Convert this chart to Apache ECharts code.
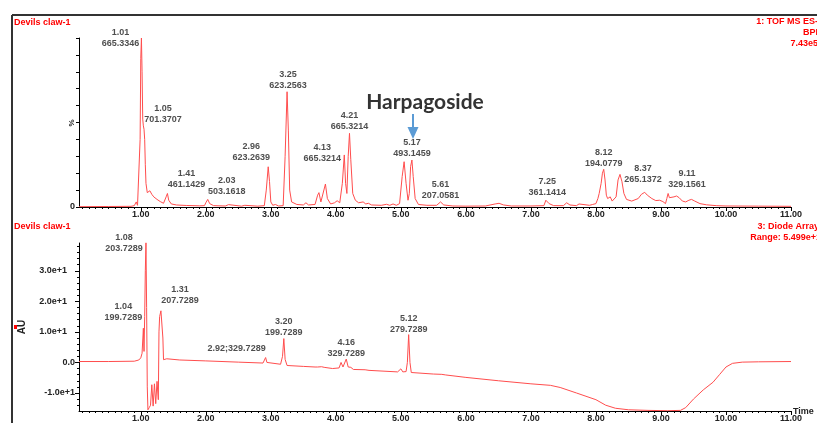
<!DOCTYPE html>
<html>
<head>
<meta charset="utf-8">
<script src="https://cdn.jsdelivr.net/npm/echarts@6/dist/echarts.min.js"></script>
<style>
  html, body { margin: 0; padding: 0; background: #fff; }
  #chart { width: 817px; height: 423px; }
</style>
</head>
<body>
<div id="chart"></div>
<script>
// MS base peak trace: [retention time (min), relative intensity (%)]
const msTrace = [
  [0.05, 0.2], [0.5, 0.3], [0.85, 0.4], [0.9, 0.8], [0.93, 3.0], [0.95, 1.0], [0.97, 2.0],
  [0.99, 40], [1.0, 88], [1.01, 100], [1.02, 80], [1.03, 52], [1.04, 48], [1.05, 46],
  [1.06, 40], [1.07, 25], [1.08, 14], [1.1, 8.5], [1.12, 9.5], [1.14, 9.6], [1.17, 7.5],
  [1.2, 6], [1.25, 4.5], [1.3, 3.2], [1.35, 2.2], [1.38, 2.5], [1.39, 6], [1.41, 8],
  [1.43, 4], [1.47, 1.8], [1.55, 1.2], [1.7, 0.9], [1.9, 0.7], [1.98, 0.8], [2.0, 2.5],
  [2.03, 4.5], [2.06, 2], [2.12, 0.8], [2.3, 0.6], [2.35, 1.4], [2.38, 0.6], [2.55, 0.5],
  [2.6, 1.0], [2.63, 0.5], [2.8, 0.5], [2.9, 0.8], [2.93, 10], [2.96, 23.8], [2.98, 15],
  [3.0, 3], [3.03, 1], [3.07, 1.5], [3.12, 0.6], [3.19, 0.8], [3.22, 30], [3.25, 68.2],
  [3.27, 45], [3.29, 10], [3.32, 3], [3.4, 1.5], [3.5, 1.2], [3.54, 2.5], [3.58, 1.2],
  [3.68, 1.5], [3.72, 7], [3.74, 8.5], [3.77, 3], [3.8, 4], [3.84, 13.6], [3.87, 5],
  [3.92, 1.8], [3.98, 2.5], [4.02, 3.7], [4.06, 2.5], [4.1, 14], [4.13, 30.8], [4.15, 14],
  [4.17, 8], [4.19, 30], [4.21, 43.6], [4.23, 28], [4.26, 8], [4.3, 4], [4.35, 2.5],
  [4.42, 3], [4.46, 1.8], [4.5, 2.2], [4.55, 1.2], [4.7, 1], [4.78, 1.6], [4.83, 1.0],
  [4.88, 1.8], [4.93, 1], [4.98, 2], [5.02, 18], [5.05, 26.8], [5.08, 14], [5.11, 4],
  [5.13, 8], [5.15, 24], [5.17, 27.8], [5.19, 18], [5.22, 5], [5.27, 1.5], [5.4, 1],
  [5.55, 1], [5.61, 3], [5.66, 1.2], [5.8, 0.6], [6.0, 0.5], [6.3, 0.6], [6.45, 1.8],
  [6.51, 2.2], [6.58, 1.2], [6.7, 0.6], [7.0, 0.6], [7.2, 0.8], [7.23, 4], [7.25, 5.1],
  [7.28, 2], [7.35, 0.8], [7.5, 0.8], [7.55, 2.5], [7.57, 3.5], [7.6, 1.2], [7.7, 0.8],
  [7.74, 1.8], [7.77, 0.8], [7.9, 1], [7.95, 1.5], [8.0, 2], [8.03, 5], [8.05, 8],
  [8.08, 14], [8.1, 20], [8.12, 22.3], [8.14, 16], [8.16, 7], [8.18, 5], [8.22, 6],
  [8.25, 3.5], [8.28, 3], [8.31, 6], [8.34, 16], [8.37, 19.3], [8.4, 15], [8.43, 8],
  [8.47, 4.5], [8.55, 3.5], [8.65, 5], [8.7, 7.5], [8.75, 8.7], [8.79, 7], [8.82, 6.5],
  [8.86, 5], [8.92, 3.8], [8.98, 4], [9.03, 3.2], [9.07, 2], [9.09, 5], [9.11, 8],
  [9.13, 5.5], [9.16, 4.5], [9.2, 6], [9.24, 6.5], [9.28, 5.5], [9.33, 3.5], [9.38, 3],
  [9.43, 4], [9.47, 4.5], [9.52, 3.5], [9.6, 2], [9.7, 1.3], [9.85, 0.8], [10.0, 0.6],
  [10.5, 0.5], [11.0, 0.4]
];

// Diode array trace: [retention time (min), absorbance (AU)]
const uvTrace = [
  [0.05, 0.3], [0.5, 0.3], [0.9, 0.4], [0.97, 0.8], [1.0, 1.5], [1.02, 3], [1.04, 11.2],
  [1.05, 3.6], [1.06, 15], [1.07, 30], [1.08, 39.2], [1.09, 18], [1.1, -8], [1.11, -15.5],
  [1.13, -14.8], [1.15, -14], [1.17, -7.3], [1.19, -14.3], [1.21, -7], [1.23, -13.5],
  [1.25, -6.2], [1.27, -12.2], [1.28, 10], [1.29, 15], [1.31, 16.9], [1.33, 16.5],
  [1.34, 8], [1.35, 0.9], [1.4, 1.2], [1.6, 0.8], [2.0, 0.5], [2.5, 0.1], [2.88, -0.2],
  [2.9, 0.3], [2.92, 1.6], [2.94, 0], [2.96, -0.5], [3.15, -0.6], [3.18, 2], [3.2, 7.8],
  [3.22, 1], [3.25, -1], [3.5, -1.3], [3.68, -1.5], [3.7, -0.9], [3.72, -1.5], [3.78, -1.4],
  [3.8, -0.75], [3.82, -1.6], [3.95, -2.0], [4.05, -1.8], [4.08, 0], [4.11, -1.5],
  [4.13, -1.3], [4.16, 1.1], [4.19, -1.5], [4.23, -1.6], [4.27, -2.3], [4.45, -2.4],
  [4.48, -2.1], [4.51, -2.6], [4.95, -3.1], [5.0, -2.1], [5.03, -3.1], [5.08, -3.0],
  [5.1, 0], [5.12, 9.1], [5.14, 0], [5.16, -3.3], [5.5, -3.8], [5.63, -3.9], [5.66, -3.6],
  [5.69, -4.1], [6.0, -4.9], [6.5, -6.0], [7.0, -7.0], [7.3, -7.5], [7.45, -8.2],
  [7.7, -10], [8.0, -12.2], [8.15, -14], [8.3, -15.0], [8.5, -15.5], [8.8, -15.7],
  [9.1, -15.8], [9.3, -15.7], [9.38, -14.8], [9.5, -12], [9.65, -9], [9.8, -6.5],
  [9.9, -4], [10.0, -1.5], [10.1, -0.3], [10.25, 0.1], [10.5, 0.2], [11.0, 0.3]
];

// Annotated peaks (retention time, m/z)
const msPeakTimes  = [1.01, 1.05, 1.41, 2.03, 2.96, 3.25, 4.13, 4.21, 5.17, 5.61, 7.25, 8.12, 8.37, 9.11];
const msPeakMasses = ['665.3346', '701.3707', '461.1429', '503.1618', '623.2639', '623.2563',
  '665.3214', '665.3214', '493.1459', '207.0581', '361.1414', '194.0779', '265.1372', '329.1561'];
const uvPeakTimes  = [1.04, 1.08, 1.31, 2.92, 3.20, 4.16, 5.12];
const uvPeakMasses = ['199.7289', '203.7289', '207.7289', '329.7289', '199.7289', '329.7289', '279.7289'];

// Axis ticks
const timeTicks = [1, 2, 3, 4, 5, 6, 7, 8, 9, 10, 11];
const pctTicks = [0, 10, 20, 30, 40, 50, 60, 70, 80, 90, 100];
const pctLabels = [0];
const auTicks = [-10, 0, 10, 20, 30];

// Label placement (pixel offsets of the label block from its peak)
const msLabelOffsets = [[-21, 0], [19, -15], [19, -14], [19, -13], [-17, -15], [1, -12],
  [-22, -2], [0, -12], [0, -12], [0, -12], [0, -11], [0, -11], [23, 0], [19, -14]];
const uvLabelOffsets = [[-20, -16], [-22, 0], [19, -16], [-29, -9], [0, -12], [0, -11.5], [0, -11]];
const uvLabelInline = [false, false, false, true, false, false, false];

const minorTime = [];
for (let k = 1; k <= 110; k++) minorTime.push(k / 10);
const minorAU = [];
for (let v = -14; v <= 38; v += 2) minorAU.push(v);

function valueAt(trace, t) {
  for (const p of trace) if (Math.abs(p[0] - t) < 1e-6) return p[1];
  return 0;
}
function fmtAU(v) {
  if (v === 0) return '0.0';
  const e = Math.floor(Math.log10(Math.abs(v)));
  const m = v / Math.pow(10, e);
  const s = m.toFixed(1) + 'e' + (e >= 0 ? '+' : '') + e;
  // positive exponents are printed with a little trailing room
  return v > 0 ? '{pos|' + s + '}' : s;
}

const RED = '#ff0000';
const TRACE = '#ff4d4d';
const INK = '#222';
const FONT = '"Liberation Sans", Arial, sans-serif';

const labelStyle = {
  show: true, position: 'inside', color: INK, fontFamily: FONT,
  fontSize: 9, fontWeight: 'bold', lineHeight: 11, align: 'center'
};

const msLabels = msPeakTimes.map((t, i) => ({
  value: [t, valueAt(msTrace, t)],
  label: Object.assign({}, labelStyle, {
    offset: msLabelOffsets[i],
    formatter: t.toFixed(2) + '\n' + msPeakMasses[i]
  })
}));
const uvLabels = uvPeakTimes.map((t, i) => ({
  value: [t, valueAt(uvTrace, t)],
  label: Object.assign({}, labelStyle, {
    offset: uvLabelOffsets[i],
    formatter: uvLabelInline[i] ? t.toFixed(2) + ';' + uvPeakMasses[i]
                                : t.toFixed(2) + '\n' + uvPeakMasses[i]
  })
}));

const axisLabelStyle = { color: INK, fontFamily: FONT, fontSize: 9, fontWeight: 'bold' };

function timeAxis(grid) {
  return {
    gridIndex: grid, type: 'value', min: 0.05, max: 11, position: 'bottom',
    axisLine: { show: true, onZero: false, lineStyle: { color: '#000', width: 1 } },
    axisTick: { show: true, customValues: timeTicks, length: 4, lineStyle: { color: '#000' } },
    axisLabel: Object.assign({ customValues: timeTicks, margin: 3, formatter: v => v.toFixed(2) }, axisLabelStyle),
    splitLine: { show: false }
  };
}
function minorTimeAxis(grid) {
  return {
    gridIndex: grid, type: 'value', min: 0.05, max: 11, position: 'bottom',
    axisLine: { show: false, onZero: false },
    axisTick: { show: true, customValues: minorTime, length: 2, lineStyle: { color: '#000' } },
    axisLabel: { show: false }, splitLine: { show: false }
  };
}

const option = {
  animation: false,
  backgroundColor: '#fff',
  grid: [
    { left: 79, right: 26, top: 38, height: 169 },
    { left: 79, right: 26, top: 243, height: 169 }
  ],
  xAxis: [timeAxis(0), minorTimeAxis(0), timeAxis(1), minorTimeAxis(1)],
  yAxis: [
    {
      gridIndex: 0, type: 'value', min: 0, max: 100, position: 'left',
      axisLine: { show: true, lineStyle: { color: '#000' } },
      axisTick: { show: true, customValues: pctTicks, length: 3, lineStyle: { color: '#000' } },
      axisLabel: Object.assign({ customValues: pctLabels, margin: 4 }, axisLabelStyle),
      splitLine: { show: false }
    },
    {
      gridIndex: 1, type: 'value', min: -15.9, max: 39.1, position: 'left',
      axisLine: { show: true, onZero: false, lineStyle: { color: '#000' } },
      axisTick: { show: true, customValues: auTicks, length: 4, lineStyle: { color: '#000' } },
      axisLabel: Object.assign({
        customValues: auTicks, margin: 4, formatter: fmtAU,
        rich: { pos: { color: INK, fontFamily: FONT, fontSize: 9, fontWeight: 'bold', padding: [0, 8, 0, 0] } }
      }, axisLabelStyle),
      splitLine: { show: false }
    },
    {
      gridIndex: 1, type: 'value', min: -15.9, max: 39.1, position: 'left',
      axisLine: { show: false, onZero: false },
      axisTick: { show: true, customValues: minorAU, length: 2, lineStyle: { color: '#000' } },
      axisLabel: { show: false }, splitLine: { show: false }
    }
  ],
  series: [
    {
      type: 'line', xAxisIndex: 0, yAxisIndex: 0, data: msTrace,
      showSymbol: false, symbol: 'none', clip: true,
      lineStyle: { color: TRACE, width: 1 }
    },
    {
      type: 'line', xAxisIndex: 2, yAxisIndex: 1, data: uvTrace,
      showSymbol: false, symbol: 'none', clip: true,
      lineStyle: { color: TRACE, width: 1 }
    },
    {
      type: 'scatter', xAxisIndex: 0, yAxisIndex: 0, data: msLabels,
      symbolSize: 0, clip: false, z: 5, silent: true
    },
    {
      type: 'scatter', xAxisIndex: 2, yAxisIndex: 1, data: uvLabels,
      symbolSize: 0, clip: false, z: 5, silent: true
    }
  ],
  graphic: [
    // panel frame
    { type: 'line', shape: { x1: 12, y1: 15, x2: 817, y2: 15 }, style: { stroke: '#333', lineWidth: 2 } },
    { type: 'line', shape: { x1: 12, y1: 15, x2: 12, y2: 423 }, style: { stroke: '#333', lineWidth: 2 } },
    // headers
    { type: 'text', x: 14, y: 23, style: { text: 'Devils claw-1', fill: RED, font: 'bold 9px ' + FONT, textVerticalAlign: 'middle' } },
    { type: 'text', x: 14, y: 227, style: { text: 'Devils claw-1', fill: RED, font: 'bold 9px ' + FONT, textVerticalAlign: 'middle' } },
    { type: 'text', x: 818, y: 22, style: { text: '1: TOF MS ES-', fill: RED, font: 'bold 9px ' + FONT, textAlign: 'right', textVerticalAlign: 'middle' } },
    { type: 'text', x: 818, y: 33, style: { text: 'BPI', fill: RED, font: 'bold 9px ' + FONT, textAlign: 'right', textVerticalAlign: 'middle' } },
    { type: 'text', x: 818, y: 44, style: { text: '7.43e5', fill: RED, font: 'bold 9px ' + FONT, textAlign: 'right', textVerticalAlign: 'middle' } },
    { type: 'text', x: 819, y: 227, style: { text: '3: Diode Array', fill: RED, font: 'bold 9px ' + FONT, textAlign: 'right', textVerticalAlign: 'middle' } },
    { type: 'text', x: 821, y: 238, style: { text: 'Range: 5.499e+1', fill: RED, font: 'bold 9px ' + FONT, textAlign: 'right', textVerticalAlign: 'middle' } },
    // axis captions
    { type: 'text', x: 72, y: 123, rotation: Math.PI / 2, style: { text: '%', fill: INK, font: 'bold 8px ' + FONT, textAlign: 'center', textVerticalAlign: 'middle' } },
    { type: 'text', x: 793, y: 412, style: { text: 'Time', fill: INK, font: 'bold 9px ' + FONT, textVerticalAlign: 'middle' } },
    { type: 'text', x: 22, y: 327, rotation: Math.PI / 2, style: { text: 'AU', fill: INK, font: 'bold 10px ' + FONT, textAlign: 'center', textVerticalAlign: 'middle' } },
    { type: 'rect', shape: { x: 14, y: 325, width: 3, height: 4 }, style: { fill: RED } },
    // compound callout
    { type: 'text', x: 425, y: 102, style: { text: 'Harpagoside', fill: '#333', font: 'bold 21px Lato, "Open Sans", sans-serif', textAlign: 'center', textVerticalAlign: 'middle' } },
    { type: 'line', shape: { x1: 413, y1: 114, x2: 413, y2: 128 }, style: { stroke: '#5b9bd5', lineWidth: 2 } },
    { type: 'polygon', shape: { points: [[407.5, 127], [418.5, 127], [413, 139]] }, style: { fill: '#5b9bd5' } }
  ]
};

const chart = echarts.init(document.getElementById('chart'), null, { renderer: 'canvas' });
chart.setOption(option);
</script>
</body>
</html>
